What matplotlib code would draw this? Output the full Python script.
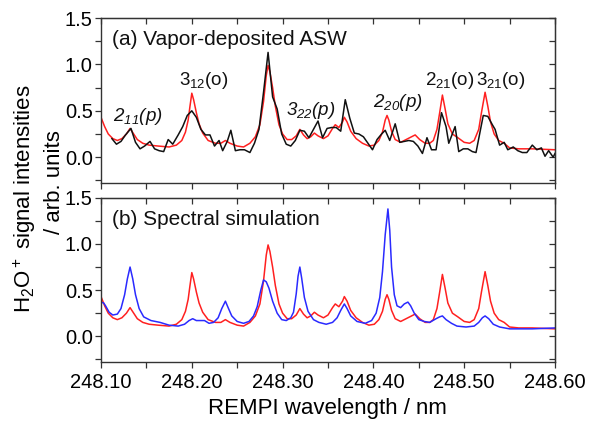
import matplotlib
matplotlib.use('Agg')
import matplotlib.pyplot as plt
from matplotlib.ticker import MultipleLocator, FormatStrFormatter

plt.rcParams['font.family'] = ['Liberation Sans', 'DejaVu Sans']
plt.rcParams['mathtext.fontset'] = 'custom'
plt.rcParams['mathtext.rm'] = 'Liberation Sans'
plt.rcParams['mathtext.it'] = 'Liberation Sans:italic'
# sf slot used for fully italic labels (digits too)
plt.rcParams['mathtext.sf'] = 'Liberation Sans:italic'

# simulated spectrum (red, same in both panels)
sim_x = [248.100, 248.104, 248.108, 248.113, 248.118, 248.123, 248.128, 248.132, 248.136, 248.140,
         248.146, 248.153, 248.163, 248.175, 248.183, 248.189, 248.193, 248.196, 248.198, 248.200,
         248.202, 248.205, 248.208, 248.212, 248.218, 248.226, 248.232, 248.237, 248.242, 248.250,
         248.257, 248.264, 248.270, 248.275, 248.279, 248.282, 248.284, 248.286, 248.289, 248.292,
         248.296, 248.300, 248.305, 248.310, 248.315, 248.319, 248.323, 248.327, 248.331, 248.335,
         248.339, 248.345, 248.350, 248.355, 248.358, 248.362, 248.366, 248.368, 248.371, 248.375,
         248.381, 248.388, 248.395, 248.401, 248.406, 248.410, 248.413, 248.415, 248.417, 248.420,
         248.424, 248.430, 248.438, 248.446, 248.451, 248.457, 248.462, 248.466, 248.470, 248.473,
         248.476, 248.479, 248.482, 248.487, 248.493, 248.500, 248.506, 248.511, 248.516, 248.519,
         248.523, 248.526, 248.529, 248.533, 248.538, 248.544, 248.550, 248.560, 248.575, 248.600]
sim_y = [0.43, 0.33, 0.25, 0.20, 0.18, 0.20, 0.25, 0.31, 0.25, 0.19,
         0.15, 0.13, 0.12, 0.11, 0.13, 0.18, 0.27, 0.40, 0.55, 0.69,
         0.62, 0.48, 0.36, 0.26, 0.18, 0.15, 0.15, 0.18, 0.15, 0.12,
         0.11, 0.15, 0.22, 0.35, 0.60, 0.88, 0.99, 0.92, 0.75, 0.55,
         0.35, 0.25, 0.19, 0.19, 0.23, 0.30, 0.24, 0.20, 0.22, 0.26,
         0.23, 0.20, 0.23, 0.31, 0.35, 0.32, 0.38, 0.43, 0.38, 0.28,
         0.20, 0.15, 0.12, 0.13, 0.18, 0.27, 0.40, 0.45, 0.40, 0.28,
         0.19, 0.16, 0.20, 0.24, 0.19, 0.15, 0.15, 0.18, 0.30, 0.48,
         0.67, 0.52, 0.36, 0.25, 0.21, 0.16, 0.15, 0.18, 0.30, 0.48,
         0.70, 0.55, 0.38, 0.25, 0.18, 0.15, 0.10, 0.09, 0.09, 0.08]

# simulated spectrum (blue, bottom panel)
sim2_x = [248.100, 248.103, 248.105, 248.109, 248.113, 248.118, 248.122, 248.126, 248.129, 248.132,
          248.135, 248.138, 248.142, 248.147, 248.155, 248.165, 248.175, 248.185, 248.192, 248.197,
          248.201, 248.205, 248.210, 248.214, 248.219, 248.224, 248.229, 248.233, 248.237, 248.240,
          248.244, 248.250, 248.257, 248.263, 248.268, 248.272, 248.276, 248.279, 248.282, 248.285,
          248.289, 248.294, 248.299, 248.304, 248.309, 248.312, 248.315, 248.317, 248.319, 248.321,
          248.324, 248.328, 248.334, 248.340, 248.348, 248.355, 248.360, 248.364, 248.368, 248.371,
          248.375, 248.382, 248.391, 248.398, 248.403, 248.407, 248.410, 248.413, 248.416, 248.418,
          248.420, 248.423, 248.426, 248.430, 248.434, 248.438, 248.441, 248.445, 248.450, 248.456,
          248.462, 248.469, 248.473, 248.476, 248.480, 248.486, 248.492, 248.502, 248.511, 248.516,
          248.520, 248.523, 248.527, 248.532, 248.539, 248.550, 248.575, 248.600]
sim2_y = [0.37, 0.36, 0.33, 0.26, 0.23, 0.24, 0.30, 0.45, 0.62, 0.75,
          0.62, 0.45, 0.30, 0.21, 0.17, 0.15, 0.12, 0.11, 0.13, 0.17,
          0.19, 0.17, 0.17, 0.17, 0.14, 0.15, 0.20, 0.30, 0.38, 0.31,
          0.22, 0.16, 0.14, 0.16, 0.22, 0.32, 0.50, 0.61, 0.59, 0.52,
          0.38, 0.25, 0.18, 0.17, 0.20, 0.26, 0.46, 0.65, 0.75, 0.63,
          0.42, 0.27, 0.18, 0.15, 0.13, 0.15, 0.20, 0.28, 0.35, 0.30,
          0.22, 0.16, 0.14, 0.17, 0.25, 0.42, 0.70, 1.10, 1.38, 1.15,
          0.75, 0.45, 0.33, 0.31, 0.35, 0.37, 0.33, 0.25, 0.18, 0.16,
          0.15, 0.19, 0.21, 0.22, 0.18, 0.14, 0.11, 0.10, 0.11, 0.15,
          0.20, 0.22, 0.19, 0.13, 0.10, 0.08, 0.08, 0.09]

# measured spectrum (black, top panel)
exp_x = [248.112, 248.117, 248.122, 248.127, 248.133, 248.138, 248.143, 248.148, 248.154, 248.159,
         248.164, 248.169, 248.174, 248.179, 248.185, 248.190, 248.195, 248.200, 248.205, 248.210,
         248.215, 248.220, 248.225, 248.230, 248.234, 248.239, 248.243, 248.248, 248.253, 248.258,
         248.264, 248.269, 248.274, 248.279, 248.284, 248.289, 248.294, 248.299, 248.304, 248.309,
         248.314, 248.319, 248.324, 248.329, 248.334, 248.339, 248.344, 248.349, 248.354, 248.359,
         248.364, 248.369, 248.374, 248.379, 248.384, 248.389, 248.394, 248.399, 248.404, 248.409,
         248.413, 248.418, 248.424, 248.429, 248.434, 248.439, 248.444, 248.449, 248.454, 248.459,
         248.464, 248.469, 248.475, 248.480, 248.483, 248.490, 248.494, 248.499, 248.504, 248.509,
         248.513, 248.517, 248.521, 248.526, 248.531, 248.534, 248.539, 248.544, 248.548, 248.554,
         248.559, 248.564, 248.569, 248.575, 248.580, 248.585, 248.589, 248.593, 248.598, 248.600]
exp_y = [0.20, 0.14, 0.17, 0.24, 0.31, 0.16, 0.09, 0.12, 0.17, 0.09,
         0.07, 0.06, 0.19, 0.14, 0.24, 0.33, 0.45, 0.50, 0.43, 0.30,
         0.24, 0.24, 0.12, 0.18, 0.07, 0.17, 0.29, 0.07, 0.08, 0.08,
         0.05, 0.15, 0.30, 0.70, 1.13, 0.65, 0.52, 0.25, 0.14, 0.12,
         0.18, 0.29, 0.28, 0.21, 0.30, 0.39, 0.21, 0.31, 0.32, 0.32,
         0.28, 0.62, 0.42, 0.26, 0.25, 0.22, 0.15, 0.08, 0.19, 0.25,
         0.29, 0.18, 0.36, 0.16, 0.17, 0.18, 0.17, 0.12, 0.04, 0.21,
         0.08, 0.08, 0.48, 0.33, 0.15, 0.33, 0.06, 0.09, 0.09, 0.06,
         0.05, 0.25, 0.45, 0.44, 0.35, 0.30, 0.13, 0.16, 0.08, 0.11,
         0.07, 0.05, 0.05, 0.13, 0.08, 0.10, 0.01, 0.07, 0.00, 0.04]

# peak assignments
peak_labels = [r'$\mathsf{2_{11}(p)}$', r'3$_{12}$(o)', r'$\mathsf{3_{22}(p)}$',
               r'$\mathsf{2_{20}(p)}$', r'2$_{21}$(o)', r'3$_{21}$(o)']
peak_x = [248.141, 248.213, 248.331, 248.4265, 248.484, 248.540]
peak_y = [0.385, 0.775, 0.46, 0.54, 0.78, 0.78]

fig = plt.figure(figsize=(6.03, 4.21), dpi=100)
ax1 = fig.add_axes([0.1675, 0.565, 0.7529, 0.392])
ax2 = fig.add_axes([0.1675, 0.140, 0.7529, 0.390])

ax1.plot(sim_x, sim_y, color='#ff2020', lw=1.1)
ax1.plot(exp_x, exp_y, color='#111111', lw=1.1)
ax2.plot(sim_x, sim_y, color='#ff2020', lw=1.1)
ax2.plot(sim2_x, sim2_y, color='#2a2aff', lw=1.1)

for ax in (ax1, ax2):
    ax.set_xlim(248.10, 248.60)
    ax.set_ylim(-0.28, 1.5)
    ax.xaxis.set_major_locator(MultipleLocator(0.1))
    ax.xaxis.set_minor_locator(MultipleLocator(0.05))
    ax.yaxis.set_major_locator(MultipleLocator(0.5))
    ax.yaxis.set_minor_locator(MultipleLocator(0.25))
    ax.yaxis.set_major_formatter(FormatStrFormatter('%.1f'))
    ax.xaxis.set_major_formatter(FormatStrFormatter('%.2f'))
    ax.tick_params(which='both', direction='out', length=4, width=0.9,
                   color='#333333', labelsize=14.5, pad=2)
    for s in ax.spines.values():
        s.set_color('#333333')
        s.set_linewidth(1.0)
    # inward ticks on top and right
    top = ax.secondary_xaxis('top')
    top.xaxis.set_major_locator(MultipleLocator(0.05))
    top.tick_params(direction='in', length=4, width=0.9, color='#333333', labeltop=False)
    right = ax.secondary_yaxis('right')
    right.yaxis.set_major_locator(MultipleLocator(0.25))
    right.tick_params(direction='in', length=4, width=0.9, color='#333333', labelright=False)

ax1.tick_params(axis='x', labelbottom=False)
ax2.tick_params(axis='x', pad=4)

ax1.text(0.024, 0.836, '(a) Vapor-deposited ASW', transform=ax1.transAxes, fontsize=15, color='#111111')
ax2.text(0.024, 0.835, '(b) Spectral simulation', transform=ax2.transAxes, fontsize=15, color='#111111')

for t, x, y in zip(peak_labels, peak_x, peak_y):
    ax1.text(x, y, t, ha='center', va='baseline', fontsize=13.5, color='#111111')

fig.text(0.5435, 0.016, 'REMPI wavelength / nm', ha='center', va='baseline', fontsize=16)
fig.text(0.0415, 0.527, r'H$_2$O$^+$ signal intensities', rotation=90, ha='center', va='center', fontsize=16)
fig.text(0.091, 0.568, '/ arb. units', rotation=90, ha='center', va='center', fontsize=16)

fig.savefig('out.png', dpi=100)
